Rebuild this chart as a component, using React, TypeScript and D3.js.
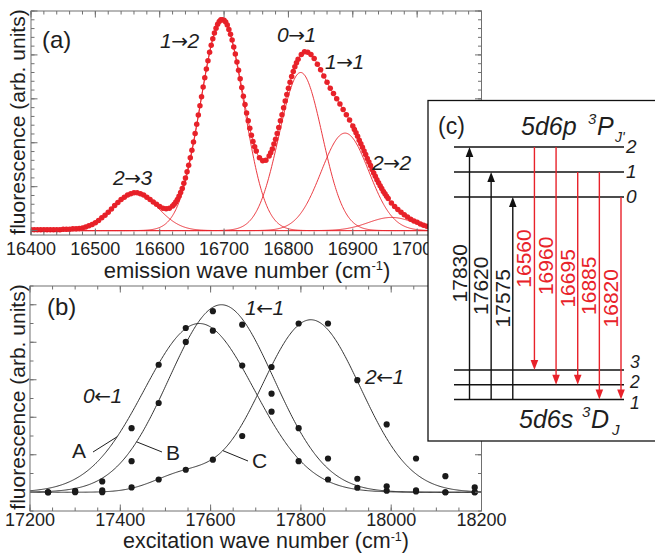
import React from "react";
import * as d3 from "d3";

const FONT = "'Liberation Sans', Arial, Helvetica, sans-serif";
const ARROW_FONT = "'DejaVu Sans', sans-serif";
const RED = "#e8222a";
const INK = "#1e1e1e";
const FRAME = "#707070";

// ---------- (a) emission spectrum: [wave number, intensity] ----------
const emissionData: [number, number][] = [
  [16400, 0.02], [16405, 0.02], [16410, 0.02], [16415, 0.02], [16420, 0.02], [16425, 0.02],
  [16430, 0.02], [16435, 0.02], [16440, 0.02], [16445, 0.02], [16450, 0.03], [16455, 0.03],
  [16460, 0.03], [16465, 0.04], [16470, 0.04], [16475, 0.05], [16480, 0.06], [16485, 0.08],
  [16490, 0.11], [16495, 0.14], [16500, 0.18], [16505, 0.23], [16510, 0.29], [16515, 0.35],
  [16520, 0.42], [16525, 0.49], [16530, 0.57], [16535, 0.64], [16540, 0.71], [16545, 0.76],
  [16550, 0.81], [16555, 0.84], [16560, 0.86], [16565, 0.86], [16570, 0.84], [16575, 0.81],
  [16580, 0.76], [16585, 0.71], [16590, 0.65], [16595, 0.6], [16600, 0.55], [16605, 0.51],
  [16610, 0.5], [16615, 0.51], [16620, 0.56], [16622.5, 0.6], [16625, 0.65], [16627.5, 0.71],
  [16630, 0.78], [16632.5, 0.87], [16635, 0.96], [16637.5, 1.08], [16640, 1.2], [16642.5, 1.34],
  [16645, 1.49], [16647.5, 1.66], [16650, 1.83], [16652.5, 2.02], [16655, 2.21], [16657.5, 2.42],
  [16660, 2.63], [16662.5, 2.84], [16665, 3.05], [16667.5, 3.27], [16670, 3.48], [16672.5, 3.68],
  [16675, 3.87], [16677.5, 4.06], [16680, 4.22], [16682.5, 4.37], [16685, 4.5], [16687.5, 4.61],
  [16690, 4.7], [16692.5, 4.76], [16695, 4.8], [16697.5, 4.8], [16700, 4.79], [16702.5, 4.75],
  [16705, 4.68], [16707.5, 4.58], [16710, 4.47], [16712.5, 4.34], [16715, 4.18], [16717.5, 4.02],
  [16720, 3.84], [16722.5, 3.65], [16725, 3.46], [16727.5, 3.26], [16730, 3.06], [16732.5, 2.87],
  [16735, 2.68], [16737.5, 2.5], [16740, 2.33], [16742.5, 2.17], [16745, 2.03], [16747.5, 1.91],
  [16750, 1.81], [16755, 1.66], [16760, 1.59], [16765, 1.6], [16770, 1.7], [16772.5, 1.77],
  [16775, 1.86], [16777.5, 1.97], [16780, 2.08], [16782.5, 2.21], [16785, 2.35], [16787.5, 2.5],
  [16790, 2.64], [16792.5, 2.8], [16795, 2.95], [16797.5, 3.1], [16800, 3.24], [16802.5, 3.38],
  [16805, 3.51], [16807.5, 3.62], [16810, 3.73], [16812.5, 3.82], [16815, 3.9], [16820, 4.01],
  [16825, 4.07], [16830, 4.06], [16835, 4.01], [16840, 3.92], [16845, 3.79], [16850, 3.66],
  [16855, 3.52], [16860, 3.38], [16865, 3.24], [16870, 3.12], [16875, 3.0], [16880, 2.88],
  [16885, 2.76], [16890, 2.64], [16895, 2.52], [16900, 2.38], [16902.5, 2.3], [16905, 2.23],
  [16907.5, 2.15], [16910, 2.06], [16912.5, 1.98], [16915, 1.9], [16917.5, 1.81], [16920, 1.73],
  [16922.5, 1.64], [16925, 1.56], [16927.5, 1.48], [16930, 1.39], [16932.5, 1.31], [16935, 1.24],
  [16937.5, 1.16], [16940, 1.09], [16942.5, 1.02], [16945, 0.96], [16947.5, 0.89], [16950, 0.84],
  [16952.5, 0.78], [16955, 0.73], [16960, 0.63], [16965, 0.55], [16970, 0.48], [16975, 0.42],
  [16980, 0.36], [16985, 0.31], [16990, 0.26], [16995, 0.22], [17000, 0.19], [17005, 0.15],
  [17010, 0.12], [17015, 0.1], [17020, 0.08], [17025, 0.06], [17030, 0.05], [17035, 0.04],
  [17040, 0.03], [17045, 0.03], [17050, 0.02],
];

// Gaussian components fitted to the emission spectrum
const emissionFitLabels = [["2", "3"], ["1", "2"], ["0", "1"], ["1", "1"], ["2", "2"]];
const emissionFitCenters = [16562, 16697, 16819, 16888, 16960];
const emissionFitHeights = [0.86, 4.8, 3.6, 2.22, 0.3];
const emissionFitWidths = [35, 33.5, 33.5, 37, 36];

const emissionTickLabels = [16400, 16500, 16600, 16700, 16800, 16900, 17000];

// ---------- (b) excitation scans ----------
const excitationWn = [17240, 17300, 17360, 17425, 17485, 17545, 17605, 17670, 17735, 17795, 17860, 17925, 17990, 18055, 18120, 18185];
const scanA = [0.0, 0.04, 0.29, 1.71, 3.4, 4.38, 4.31, 3.38, 2.15, 0.83, 0.34, 0.12, 0.04, 0.02, 0.0, 0.0];
const scanB = [0.0, 0.02, 0.05, 0.83, 2.38, 4.01, 4.83, 4.47, 3.34, 1.71, 0.9, 0.36, 0.16, 0.05, 0.0, 0.0];
const scanC = [0.0, 0.0, 0.0, 0.13, 0.34, 0.6, 0.87, 1.5, 2.63, 4.5, 4.5, 2.99, 1.81, 0.9, 0.43, 0.13];
const excitationLabels = [["0", "1"], ["1", "1"], ["2", "1"]];

// fitted profiles: [center, height, width] terms
const fitA = [[17575, 4.5, 122]];
const fitB = [[17624, 5.0, 116]];
const fitC = [[17822, 4.6, 110], [17535, 0.42, 65]];

const excitationTickLabels = [17200, 17400, 17600, 17800, 18000, 18200];

// ---------- (c) level scheme ----------
const upperLevels = [2, 1, 0];
const lowerLevels = [3, 2, 1];
const excitationLines = [
  { label: "17830", lower: 1, upper: 2 },
  { label: "17620", lower: 1, upper: 1 },
  { label: "17575", lower: 1, upper: 0 },
];
const emissionLines = [
  { label: "16560", upper: 2, lower: 3 },
  { label: "16960", upper: 2, lower: 2 },
  { label: "16695", upper: 1, lower: 2 },
  { label: "16885", upper: 1, lower: 1 },
  { label: "16820", upper: 0, lower: 1 },
];

const gauss = (x: number, c: number, h: number, w: number) =>
  h * Math.exp(-((x - c) * (x - c)) / (2 * w * w));
const profile = (terms: number[][]) => (x: number) =>
  terms.reduce((s, t) => s + gauss(x, t[0], t[1], t[2]), 0);

type Lin = d3.ScaleLinear<number, number>;

function Frame({ x, y, xMajor, xMinor, yMajor, yMinor, id }: {
  x: Lin; y: Lin; xMajor: number[]; xMinor: number[]; yMajor: number[]; yMinor: number[]; id: string;
}) {
  const [x0, x1] = x.range();
  const [yb, yt] = y.range();
  const ticks: any[] = [];
  const add = (v: number, len: number, axis: "x" | "y", k: string) => {
    if (axis === "x") {
      const px = x(v);
      ticks.push(<line key={k + "b"} x1={px} x2={px} y1={yb} y2={yb - len} />);
      ticks.push(<line key={k + "t"} x1={px} x2={px} y1={yt} y2={yt + len} />);
    } else {
      const py = y(v);
      ticks.push(<line key={k + "l"} x1={x0} x2={x0 + len} y1={py} y2={py} />);
      ticks.push(<line key={k + "r"} x1={x1} x2={x1 - len} y1={py} y2={py} />);
    }
  };
  xMinor.forEach((v, i) => add(v, 3.5, "x", id + "xm" + i));
  xMajor.forEach((v, i) => add(v, 6.5, "x", id + "xM" + i));
  yMinor.forEach((v, i) => add(v, 3.5, "y", id + "ym" + i));
  yMajor.forEach((v, i) => add(v, 6.5, "y", id + "yM" + i));
  return (
    <g stroke={FRAME} strokeWidth={1}>
      {ticks}
      <rect x={x0} y={yt} width={x1 - x0} height={yb - yt} fill="none" />
    </g>
  );
}

// transition label such as "1→2": italic digits, long arrow glyph
function Transition({ x, y, pair, arrow }: { x: number; y: number; pair: string[]; arrow: string }) {
  return (
    <text x={x} y={y} fontFamily={FONT} fontSize={21} fill={INK} fontStyle="italic">
      {pair[0]}
      <tspan fontFamily={ARROW_FONT} fontStyle="normal" fontSize={20} dx={-0.5}>{arrow}</tspan>
      <tspan dx={-0.5}>{pair[1]}</tspan>
    </text>
  );
}

export default function App() {
  // ---- scales (a)
  const ax = d3.scaleLinear().domain([16400, 17100]).range([31, 481.5]);
  const ay = d3.scaleLinear().domain([-0.1, 5.0]).range([235, 11]);
  // ---- scales (b)
  const bx = d3.scaleLinear().domain([17200, 18200]).range([30, 481.5]);
  const by = d3.scaleLinear().domain([-0.5, 5.5]).range([511, 286]);

  const gridA = d3.range(16400, 17100.01, 1);
  const gridB = d3.range(17200, 18200.01, 2);

  const compPaths = emissionFitCenters.map((c, i) =>
    d3.line<number>().x((v) => ax(v)).y((v) => ay(gauss(v, c, emissionFitHeights[i], emissionFitWidths[i])))(gridA)
  );
  const totalFit = (v: number) =>
    emissionFitCenters.reduce((s, c, i) => s + gauss(v, c, emissionFitHeights[i], emissionFitWidths[i]), 0);
  const sumPath = d3.line<number>().x((v) => ax(v)).y((v) => ay(totalFit(v)))(gridA);

  const fA = profile(fitA), fB = profile(fitB), fC = profile(fitC);
  const fitPath = (f: (x: number) => number) =>
    d3.line<number>().x((v) => bx(v)).y((v) => by(f(v)))(gridB);

  // ---- level scheme scales (c)
  const upperY = d3.scaleLinear().domain([0, 2]).range([197, 147]);
  const lowerY = d3.scaleLinear().domain([1, 3]).range([399.5, 370]);
  const colX = d3
    .scalePoint<string>()
    .domain([...excitationLines.map((d) => d.label), ...emissionLines.map((d) => d.label)])
    .range([469.5, 621]);
  const lowerLabelShift: Record<number, number> = { 3: -2, 2: 3.5, 1: 9 };

  const arrowHead = (x: number, tipY: number, dir: 1 | -1) =>
    `${x},${tipY} ${x - 3.8},${tipY - dir * 10} ${x + 3.8},${tipY - dir * 10}`;

  const tickLabelStyle = { fontFamily: FONT, fontSize: 18, fill: INK } as const;
  const titleStyle = { fontFamily: FONT, fontSize: 22, fill: INK } as const;

  const leader = (lx: number, ly: number, wn: number, f: (x: number) => number) => (
    <line x1={lx} y1={ly} x2={bx(wn)} y2={by(f(wn))} stroke={INK} strokeWidth={1} />
  );

  return (
    <svg
      width={655}
      height={554}
      viewBox="0 0 655 554"
      style={{ position: "absolute", left: 0, top: 0, background: "#fff" }}
    >
      <defs>
        <clipPath id="clipA">
          <rect x={31} y={11} width={450.5} height={224} />
        </clipPath>
        <clipPath id="clipB">
          <rect x={30} y={286} width={451.5} height={225} />
        </clipPath>
      </defs>
      <rect x={0} y={0} width={655} height={554} fill="#fff" />

      {/* ================= panel (a) ================= */}
      <g clipPath="url(#clipA)">
        <g fill={RED}>
          {emissionData.map((d, i) => (
            <circle key={i} cx={ax(d[0])} cy={ay(d[1])} r={2.75} />
          ))}
        </g>
        <g fill="none" stroke={RED} strokeWidth={0.9}>
          {compPaths.map((p, i) => (
            <path key={i} d={p || ""} />
          ))}
          <path d={sumPath || ""} />
        </g>
      </g>
      <Frame
        id="a"
        x={ax}
        y={ay}
        xMajor={d3.range(16400, 17100.01, 100)}
        xMinor={d3.range(16400, 17100.01, 20)}
        yMajor={d3.range(0, 5.01, 1)}
        yMinor={d3.range(0, 5.01, 0.2)}
      />
      {emissionTickLabels.map((t) => (
        <text key={t} x={ax(t)} y={255} textAnchor="middle" {...tickLabelStyle}>
          {t}
        </text>
      ))}
      <text x={247} y={278} textAnchor="middle" {...titleStyle}>
        emission wave number (cm
        <tspan dy={-8} fontSize={13}>-1</tspan>
        <tspan dy={8}>)</tspan>
      </text>
      <text transform="translate(25,122) rotate(-90)" textAnchor="middle" {...titleStyle} fontSize={21}>
        fluorescence (arb. units)
      </text>
      <text x={42} y={48} fontFamily={FONT} fontSize={24} fill={INK}>(a)</text>
      <Transition x={113} y={185} pair={emissionFitLabels[0]} arrow="→" />
      <Transition x={160} y={48} pair={emissionFitLabels[1]} arrow="→" />
      <Transition x={277} y={42} pair={emissionFitLabels[2]} arrow="→" />
      <Transition x={325} y={69} pair={emissionFitLabels[3]} arrow="→" />
      <Transition x={372} y={170} pair={emissionFitLabels[4]} arrow="→" />

      {/* ================= panel (b) ================= */}
      <g clipPath="url(#clipB)">
        <g fill="none" stroke="#333" strokeWidth={1}>
          <path d={fitPath(fA) || ""} />
          <path d={fitPath(fB) || ""} />
          <path d={fitPath(fC) || ""} />
        </g>
        <g fill="#1a1a1a">
          {[scanA, scanB, scanC].map((s, k) =>
            s.map((v, i) => <circle key={k + "-" + i} cx={bx(excitationWn[i])} cy={by(v)} r={3.1} />)
          )}
        </g>
      </g>
      <Frame
        id="b"
        x={bx}
        y={by}
        xMajor={d3.range(17200, 18200.01, 200)}
        xMinor={d3.range(17200, 18200.01, 50)}
        yMajor={d3.range(0, 5.01, 1)}
        yMinor={d3.range(-0.5, 5.51, 0.5)}
      />
      {excitationTickLabels.map((t) => (
        <text key={t} x={bx(t)} y={525.5} textAnchor="middle" {...tickLabelStyle}>
          {t}
        </text>
      ))}
      <text x={266} y={547.5} textAnchor="middle" {...titleStyle} fontSize={21.5}>
        excitation wave number (cm
        <tspan dy={-6.5} fontSize={12.5}>-1</tspan>
        <tspan dy={6.5}>)</tspan>
      </text>
      <text transform="translate(25,397) rotate(-90)" textAnchor="middle" {...titleStyle} fontSize={21}>
        fluorescence (arb. units)
      </text>
      <text x={47} y={315} fontFamily={FONT} fontSize={24} fill={INK}>(b)</text>
      <Transition x={83} y={403} pair={excitationLabels[0]} arrow="←" />
      <Transition x={245} y={315} pair={excitationLabels[1]} arrow="←" />
      <Transition x={365} y={384} pair={excitationLabels[2]} arrow="←" />
      {leader(93, 452, 17393, fA)}
      {leader(162, 452, 17436, fB)}
      {leader(248, 461, 17627, fC)}
      <text x={72} y={458} fontFamily={FONT} fontSize={21} fill={INK}>A</text>
      <text x={166} y={460} fontFamily={FONT} fontSize={21} fill={INK}>B</text>
      <text x={252} y={468} fontFamily={FONT} fontSize={21} fill={INK}>C</text>

      {/* ================= panel (c) ================= */}
      <rect x={428} y={100.5} width={240} height={340.5} fill="#fff" stroke="#111" strokeWidth={1.3} />
      <text x={438} y={134} fontFamily={FONT} fontSize={23} fill={INK}>(c)</text>
      <g fontFamily={FONT} fill={INK} fontStyle="italic">
        <text x={521} y={135} fontSize={25}>5d6p</text>
        <text x={588} y={124} fontSize={15}>3</text>
        <text x={597} y={135} fontSize={25}>P</text>
        <text x={615} y={142} fontSize={14}>J'</text>
        <text x={519} y={428} fontSize={25}>5d6s</text>
        <text x={582} y={417} fontSize={15}>3</text>
        <text x={591} y={428} fontSize={25}>D</text>
        <text x={612} y={435} fontSize={15}>J</text>
      </g>
      <g stroke="#111" strokeWidth={1.6}>
        {upperLevels.map((j) => (
          <line key={"u" + j} x1={454} x2={624} y1={upperY(j)} y2={upperY(j)} />
        ))}
        {lowerLevels.map((j) => (
          <line key={"l" + j} x1={454} x2={624} y1={lowerY(j)} y2={lowerY(j)} />
        ))}
      </g>
      <g fontFamily={FONT} fontStyle="italic" fill={INK}>
        {upperLevels.map((j) => (
          <text key={"ut" + j} x={626} y={upperY(j) + 6} fontSize={19}>{j}</text>
        ))}
        {lowerLevels.map((j) => (
          <text key={"lt" + j} x={630} y={lowerY(j) + lowerLabelShift[j]} fontSize={17.5}>{j}</text>
        ))}
      </g>
      {excitationLines.map((t) => {
        const x = colX(t.label)!;
        const y0 = lowerY(t.lower), y1 = upperY(t.upper);
        return (
          <g key={t.label}>
            <line x1={x} x2={x} y1={y0} y2={y1 + 8} stroke="#111" strokeWidth={1.4} />
            <polygon points={arrowHead(x, y1, -1)} fill="#111" />
            <text
              transform={`translate(${x - 3},${(y0 + y1) / 2}) rotate(-90)`}
              textAnchor="middle"
              fontFamily={FONT}
              fontSize={21}
              fill={INK}
            >
              {t.label}
            </text>
          </g>
        );
      })}
      {emissionLines.map((t) => {
        const x = colX(t.label)!;
        const y0 = upperY(t.upper), y1 = lowerY(t.lower);
        return (
          <g key={t.label}>
            <line x1={x} x2={x} y1={y0} y2={y1 - 8} stroke={RED} strokeWidth={1.4} />
            <polygon points={arrowHead(x, y1, 1)} fill={RED} />
            <text
              transform={`translate(${x - 3},${(y0 + y1) / 2}) rotate(-90)`}
              textAnchor="middle"
              fontFamily={FONT}
              fontSize={21}
              fill={RED}
            >
              {t.label}
            </text>
          </g>
        );
      })}
    </svg>
  );
}
